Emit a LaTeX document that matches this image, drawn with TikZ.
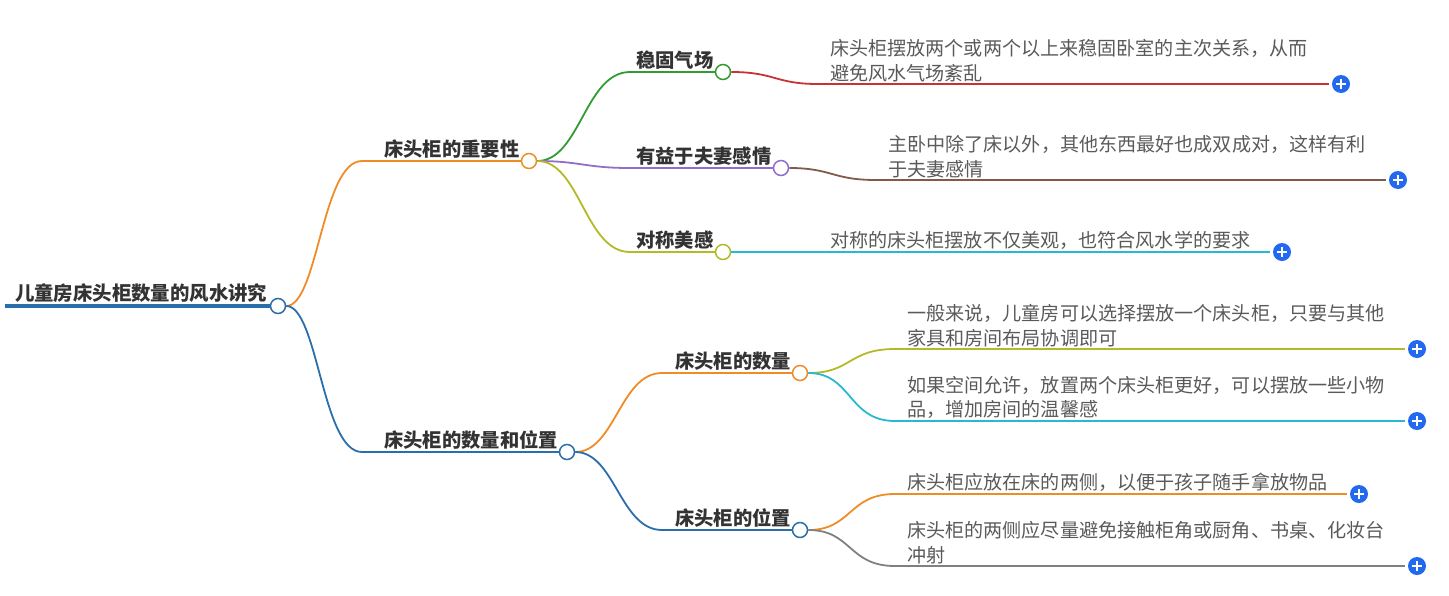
\documentclass[tikz,border=0pt]{standalone}
\usepackage{fontspec}
\setmainfont{Noto Sans CJK SC}
\definecolor{cblue}{RGB}{42,110,170}
\definecolor{corange}{RGB}{240,140,40}
\definecolor{cgreen}{RGB}{50,155,50}
\definecolor{cpurple}{RGB}{145,110,200}
\definecolor{colive}{RGB}{180,185,40}
\definecolor{cred}{RGB}{200,50,50}
\definecolor{cbrown}{RGB}{130,90,75}
\definecolor{ccyan}{RGB}{40,185,210}
\definecolor{cgray}{RGB}{128,128,128}
\definecolor{plusblue}{RGB}{35,105,240}
\definecolor{labeltext}{RGB}{51,51,51}
\definecolor{leaftext}{RGB}{90,90,90}
\begin{document}
\begin{tikzpicture}[x=1pt,y=-1pt,
  knot/.style={circle,draw=#1,fill=white,line width=1.5pt,minimum size=15pt,inner sep=0},
  lbl/.style={anchor=south west,inner sep=0,text=labeltext,font=\fontsize{19.3}{22}\selectfont\bfseries},
  leaf/.style={anchor=south west,inner sep=0,text=leaftext,align=left,font=\fontsize{19.1}{24.5}\selectfont},
  br/.style={draw=#1,line width=1.8pt},
  plusic/.style={circle,fill=plusblue,minimum size=18pt,inner sep=0,
    path picture={\draw[white,line width=1.7pt]
      ([xshift=-5pt]path picture bounding box.center) -- ([xshift=5pt]path picture bounding box.center)
      ([yshift=-5pt]path picture bounding box.center) -- ([yshift=5pt]path picture bounding box.center);}}]
\useasboundingbox (0,0) rectangle (1449,595);

% root
\coordinate (rs) at (5,306);
\node[knot=cblue] (root) at (278,306) {};
\draw[cblue,line width=4pt] (rs) -- (root.west);
\node[lbl,font=\fontsize{19.4}{22}\selectfont\bfseries] (roott) at (15,303) {儿童房床头柜数量的风水讲究};

% level 1
\node[knot=corange] (imp) at (529,161) {};
\node[lbl] (impt) at (384,159) {床头柜的重要性};
\node[knot=cblue] (pos) at (567,452) {};
\node[lbl] (post) at (384,450) {床头柜的数量和位置};
\coordinate (a1) at (362,161);
\coordinate (a2) at (362,452);
\draw[br=corange] (root.east) .. controls (318,306) and (322,161) .. (a1) -- (imp.west);
\draw[br=cblue] (root.east) .. controls (318,306) and (322,452) .. (a2) -- (pos.west);

% level 2 (importance)
\node[knot=cgreen] (wg) at (723,72) {};
\node[lbl] (wgt) at (636,70) {稳固气场};
\node[knot=cpurple] (yy) at (781,168) {};
\node[lbl] (yyt) at (636,166) {有益于夫妻感情};
\node[knot=colive] (dc) at (723,252) {};
\node[lbl] (dct) at (636,250) {对称美感};
\coordinate (b1) at (630,72);
\coordinate (b2) at (630,168);
\coordinate (b3) at (630,252);
\draw[br=cgreen] (imp.east) .. controls (580,161) and (585,72) .. (b1) -- (wg.west);
\draw[br=cpurple] (imp.east) .. controls (580,161) and (585,168) .. (b2) -- (yy.west);
\draw[br=colive] (imp.east) .. controls (580,161) and (585,252) .. (b3) -- (dc.west);

% level 2 (position)
\node[knot=corange] (sl) at (800,373) {};
\node[lbl] (slt) at (675,371) {床头柜的数量};
\node[knot=cblue] (wz) at (800,530) {};
\node[lbl] (wzt) at (675,528) {床头柜的位置};
\coordinate (b4) at (662,373);
\coordinate (b5) at (662,530);
\draw[br=corange] (pos.east) .. controls (615,452) and (620,373) .. (b4) -- (sl.west);
\draw[br=cblue] (pos.east) .. controls (615,452) and (620,530) .. (b5) -- (wz.west);

% leaves
\node[plusic] (p1) at (1341,84) {};
\node[plusic] (p2) at (1398,180) {};
\node[plusic] (p3) at (1282,252) {};
\node[plusic] (p4) at (1417,349) {};
\node[plusic] (p5) at (1417,421) {};
\node[plusic] (p6) at (1359,494) {};
\node[plusic] (p7) at (1417,566) {};

\coordinate (c1) at (818,84);
\coordinate (c2) at (876,180);
\coordinate (c4) at (895,349);
\coordinate (c5) at (895,421);
\coordinate (c6) at (895,494);
\coordinate (c7) at (895,566);
\draw[br=cred] (wg.east) .. controls (775,72) and (775,84) .. (c1) -- ([xshift=-3pt]p1.west);
\draw[br=cbrown] (yy.east) .. controls (832,168) and (832,180) .. (c2) -- ([xshift=-3pt]p2.west);
\draw[br=ccyan] (dc.east) -- ([xshift=-3pt]p3.west);
\draw[br=colive] (sl.east) .. controls (852,373) and (848,349) .. (c4) -- ([xshift=-3pt]p4.west);
\draw[br=ccyan] (sl.east) .. controls (852,373) and (848,421) .. (c5) -- ([xshift=-3pt]p5.west);
\draw[br=corange] (wz.east) .. controls (852,530) and (848,494) .. (c6) -- ([xshift=-3pt]p6.west);
\draw[br=cgray] (wz.east) .. controls (852,530) and (848,566) .. (c7) -- ([xshift=-3pt]p7.west);

\node[leaf] (l1) at (830,82) {床头柜摆放两个或两个以上来稳固卧室的主次关系，从而\\避免风水气场紊乱};
\node[leaf] (l2) at (888,178) {主卧中除了床以外，其他东西最好也成双成对，这样有利\\于夫妻感情};
\node[leaf] (l3) at (830,250) {对称的床头柜摆放不仅美观，也符合风水学的要求};
\node[leaf] (l4) at (907,347) {一般来说，儿童房可以选择摆放一个床头柜，只要与其他\\家具和房间布局协调即可};
\node[leaf] (l5) at (907,419) {如果空间允许，放置两个床头柜更好，可以摆放一些小物\\品，增加房间的温馨感};
\node[leaf] (l6) at (907,492) {床头柜应放在床的两侧，以便于孩子随手拿放物品};
\node[leaf] (l7) at (907,564) {床头柜的两侧应尽量避免接触柜角或厨角、书桌、化妆台\\冲射};
\end{tikzpicture}
\end{document}
